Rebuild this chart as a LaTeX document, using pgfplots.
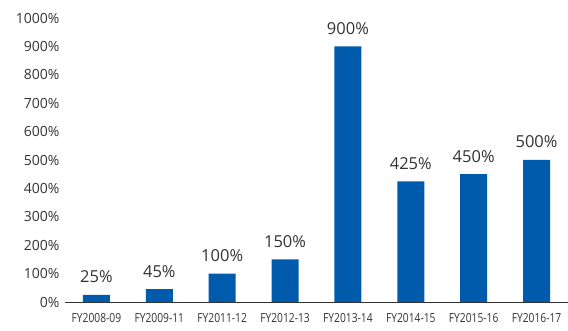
\documentclass[border=0pt]{standalone}
\usepackage{fontspec}
\setmainfont{Open Sans}
\usepackage{pgfplots}
\pgfplotsset{compat=1.18}
\definecolor{barblue}{HTML}{005BAC}
\definecolor{txt}{HTML}{333333}
\begin{document}
\begin{tikzpicture}
\useasboundingbox (-65bp,-29bp) rectangle (503bp,302bp);
\begin{axis}[
  scale only axis,
  width=503bp, height=284bp,
  xmin=-0.5, xmax=7.5,
  ymin=0, ymax=1000,
  ytick={0,100,...,1000},
  yticklabel={\pgfmathprintnumber[set thousands separator={}]{\tick}\%},
  /pgf/number format/assume math mode=true,
  xtick=data,
  xticklabels={FY2008-09,FY2009-11,FY2011-12,FY2012-13,FY2013-14,FY2014-15,FY2015-16,FY2016-17},
  x tick label style={font=\fontsize{12.5bp}{14bp}\selectfont, text=txt, yshift=-8bp, xscale=0.82},
  y tick label style={font=\fontsize{14bp}{16bp}\selectfont, text=txt, xshift=-2bp},
  axis x line*=bottom,
  axis y line*=left,
  y axis line style={draw=none},
  x axis line style={draw=txt, line width=0.8bp, -},
  major tick length=0pt,
  ybar,
  bar width=27bp,
  nodes near coords={\pgfmathprintnumber{\pgfplotspointmeta}\%},
  nodes near coords style={font=\fontsize{16.5bp}{18bp}\selectfont, text=txt, anchor=base, inner sep=0pt, yshift=12bp, /pgf/number format/assume math mode=true},
]
\addplot[fill=barblue, draw=none] coordinates {(0,25) (1,45) (2,100) (3,150) (4,900) (5,425) (6,450) (7,500)};
\end{axis}
\end{tikzpicture}
\end{document}
